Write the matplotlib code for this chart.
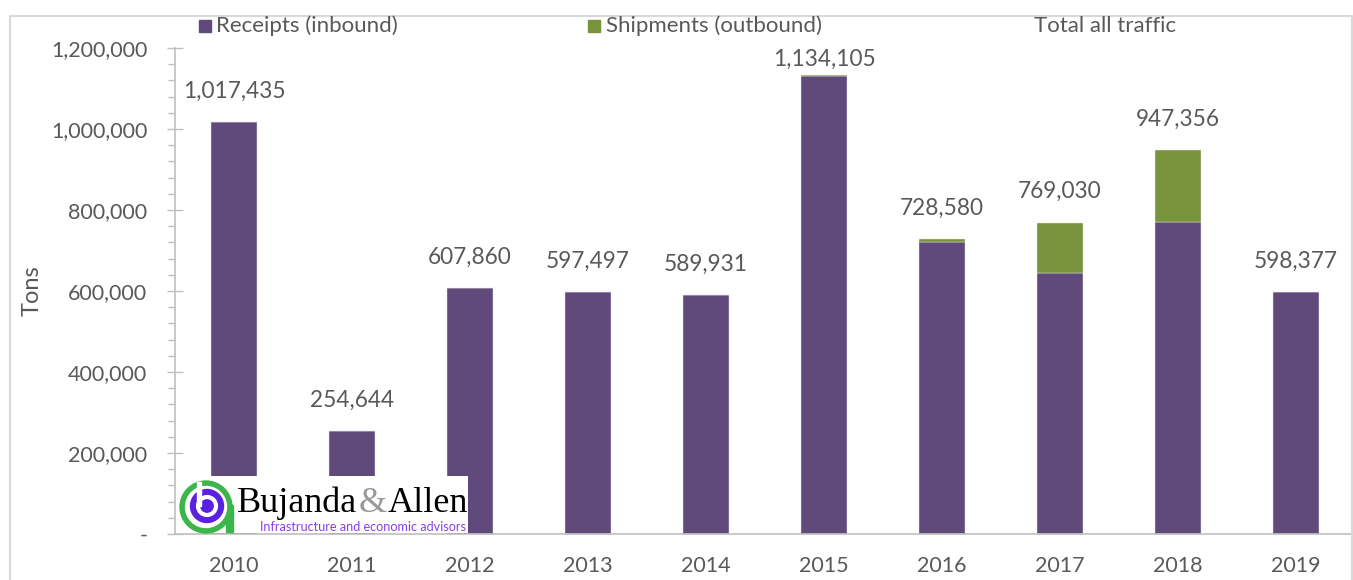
import matplotlib
matplotlib.use("Agg")
import matplotlib.pyplot as plt
from matplotlib.patches import Rectangle, Circle
from matplotlib.ticker import FuncFormatter, MultipleLocator

# Annual rail traffic, tons
years = ["2010", "2011", "2012", "2013", "2014", "2015", "2016", "2017", "2018", "2019"]
receipts = [1017435, 254644, 607860, 597497, 589931, 1130105, 720580, 645030, 771356, 598377]
shipments = [0, 0, 0, 0, 0, 4000, 8000, 124000, 176000, 0]
series_names = ["Receipts (inbound)", "Shipments (outbound)", "Total all traffic"]
y_ticks = [0, 200000, 400000, 600000, 800000, 1000000, 1200000]

totals = [r + s for r, s in zip(receipts, shipments)]

PURPLE = "#5F4A7B"
GREEN = "#77933C"
TEXT = "#595959"
AXIS = "#BFBFBF"
FONT = ["Lato", "DejaVu Sans"]

W, H = 1353, 580
fig = plt.figure(figsize=(W / 100, H / 100), dpi=100)
plt.rcParams["font.family"] = FONT

# main plotting area in pixel geometry
left_px, right_px, top_px, bottom_px = 175, 1355, 48, 534
ax = fig.add_axes([left_px / W, 1 - bottom_px / H,
                   (right_px - left_px) / W, (bottom_px - top_px) / H])

x = list(range(len(years)))
bw = 0.39
ax.bar(x, receipts, width=bw, color=PURPLE, edgecolor="#EDEAF2", linewidth=0.3,
       zorder=2, label=series_names[0])
ax.bar(x, shipments, width=bw, bottom=receipts, color=GREEN, edgecolor="#EEF2E6",
       linewidth=0.3, zorder=2, label=series_names[1])
ax.plot(x, totals, alpha=0, label=series_names[2])

# value labels above each stack, kept inside the plotting area
label_gap = 76000
label_ceiling = 1172000
for xi, t in zip(x, totals):
    ax.text(xi, min(t + label_gap, label_ceiling), f"{t:,}", ha="center", va="center",
            fontsize=16.3, color=TEXT)

ax.set_xlim(-0.5, 9.5)
ax.set_ylim(0, 1200000)
ax.set_yticks(y_ticks)
ax.yaxis.set_minor_locator(MultipleLocator(40000))
ax.yaxis.set_major_formatter(FuncFormatter(lambda v, p: "-" if v == 0 else f"{int(v):,}"))
ax.set_xticks(x)
ax.set_xticklabels(years)

ax.tick_params(axis="y", which="major", direction="inout", length=12, width=1,
               color=AXIS, labelsize=15.5, labelcolor=TEXT, pad=14)
ax.tick_params(axis="y", which="minor", direction="out", length=5, width=1, color=AXIS)
ax.tick_params(axis="x", length=0, labelsize=15.5, labelcolor=TEXT, pad=16)

for s in ["top", "right"]:
    ax.spines[s].set_visible(False)
for s in ["left", "bottom"]:
    ax.spines[s].set_color(AXIS)
    ax.spines[s].set_linewidth(1.2)
ax.set_facecolor("none")

ax.set_ylabel("Tons", fontsize=17, color=TEXT)
ax.yaxis.set_label_coords(-0.112, 0.5)

# overlay in pixel coordinates for frame, legend and logo
ov = fig.add_axes([0, 0, 1, 1], zorder=5)
ov.set_xlim(0, W)
ov.set_ylim(H, 0)
ov.axis("off")
ov.patch.set_alpha(0)

# chart frame
ov.plot([10, 10, 1352, 1352], [H, 16, 16, H], color="#D9D9D9", lw=1.5)

# legend
ov.add_patch(Rectangle((199, 20), 12, 12, color=PURPLE))
ov.text(216, 26, series_names[0], fontsize=16, color=TEXT, va="center", ha="left")
ov.add_patch(Rectangle((588, 20), 12, 12, color=GREEN))
ov.text(606, 26, series_names[1], fontsize=16, color=TEXT, va="center", ha="left")
ov.text(1034, 26, series_names[2], fontsize=16, color=TEXT, va="center", ha="left")

# company logo
ov.add_patch(Rectangle((178, 476), 290, 57, facecolor="white", edgecolor="none"))
ov.add_patch(Rectangle((226, 505), 7, 27, color="#3CB54A"))
ov.add_patch(Circle((206, 507), 26, color="#3CB54A"))
ov.add_patch(Circle((206, 507), 20.5, color="white"))
ov.add_patch(Circle((207, 506), 16.5, color="#5B21E0"))
ov.add_patch(Circle((207, 506), 9, facecolor="none", edgecolor="white", lw=3))
ov.add_patch(Rectangle((196.5, 482), 4.5, 24, color="white"))
serif = ["Liberation Serif"]
ov.text(237, 512, "Bujanda", family=serif, fontsize=26, color="black",
        ha="left", va="baseline")
ov.text(359, 512, "&", family=serif, fontsize=26, color="#999999",
        ha="left", va="baseline")
ov.text(388, 512, "Allen", family=serif, fontsize=26, color="black",
        ha="left", va="baseline")
ov.text(260, 527, "Infrastructure and economic advisors", fontsize=9.1,
        color="#8A3FE6", ha="left", va="center")

fig.savefig("out.png", dpi=100, facecolor="white")
